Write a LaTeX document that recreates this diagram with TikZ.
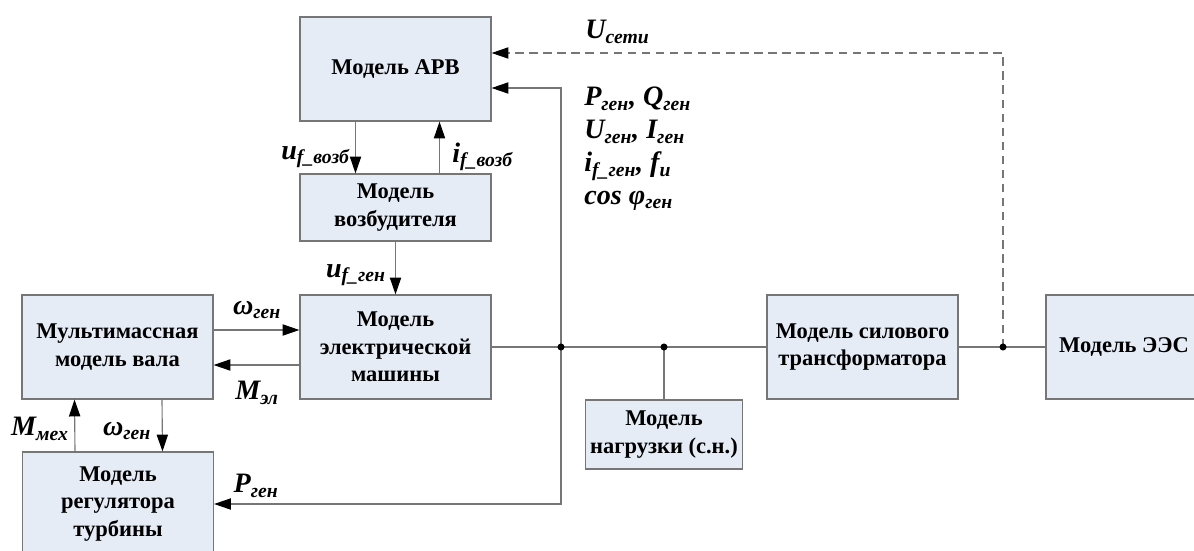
\documentclass[tikz,border=0pt]{standalone}
\usepackage{fontspec}
\setmainfont{Liberation Serif}
\usepackage{tikz}
\usetikzlibrary{positioning, calc, arrows.meta}
\definecolor{boxblue}{RGB}{230,236,246}
\definecolor{linegray}{RGB}{118,118,118}
\newcommand{\subsig}[2]{#1\textsubscript{#2}}

\begin{document}
\begin{tikzpicture}
    [
      x=0.025cm, y=-0.025cm,
      Block/.style={rectangle, draw=linegray, fill=boxblue, line width=0.8pt, minimum width=4.775cm, minimum height=2.6cm, align=center, font=\fontsize{16}{19.5}\selectfont\bfseries},
      Small/.style={Block, minimum height=1.675cm},
      Sig/.style={font=\fontsize{20}{23.4}\selectfont\bfseries\itshape, inner sep=0pt},
      Line/.style={draw=linegray, line width=0.8pt},
      Arr/.style={Line, -{Triangle[length=12pt, width=8pt, color=black]}},
    ]
    \useasboundingbox (0,0) rectangle (1194,551);

    % Nodes
    \node[Block] (arv) at (395.5, 69) {Модель АРВ};
    \node[Small] (exc) at (395.5, 207.5) {Модель\\возбудителя};
    \node[Block] (mach) at (395.5, 347) {Модель\\электрической\\машины};
    \node[Block] (shaft) at (117.5, 347) {Мультимассная\\модель вала};
    \node[Block] (turb) at (118, 504) {Модель\\регулятора\\турбины};
    \node[Block, minimum width=3.85cm, minimum height=1.725cm] (load) at (664, 434.5) {Модель\\нагрузки (с.н.)};
    \node[Block] (trans) at (862.5, 347) {Модель силового\\трансформатора};
    \node[Block, minimum width=3.9cm] (ees) at (1124, 347) {Модель ЭЭС};

    \coordinate (j1) at (561, 347);
    \coordinate (j2) at (664, 347);
    \coordinate (j3) at (1003, 347);

    % Lines
    \path[Line] (mach.east) -- (trans.west);
    \path[Line] (trans.east) -- (ees.west);
    \path[Line] (j2) -- (load.north);
    \path[Arr] (j1) |- ($(arv.east)+(0,19)$);
    \path[Arr] (j1) |- (turb.east);
    \path[Arr, dash pattern=on 6pt off 4pt] (j3) |- ($(arv.east)+(0,-16)$);

    \path[Arr] ($(arv.south)+(-40,0)$) -- ($(exc.north)+(-40,0)$);
    \path[Arr] ($(exc.north)+(44,0)$) -- ($(arv.south)+(44,0)$);
    \path[Arr] (exc) -- (mach);
    \path[Arr] ($(shaft.east)+(0,-17)$) -- ($(mach.west)+(0,-17)$);
    \path[Arr] ($(mach.west)+(0,18)$) -- ($(shaft.east)+(0,18)$);
    \path[Arr] ($(turb.north)+(-43,0)$) -- ($(shaft.south)+(-43,0)$);
    \path[Arr] ($(shaft.south)+(44.5,0)$) -- ($(turb.north)+(44.5,0)$);

    \foreach \j in {j1, j2, j3}
      \fill (\j) circle (2.5pt);

    % Labels
    \node[Sig, anchor=base west] (uset) at (585, 39) {\subsig{U}{сети}};
    \node[Sig, anchor=north west, align=left] (meas) at (584, 87)
      {\subsig{P}{ген}, \subsig{Q}{ген}\\ \subsig{U}{ген}, \subsig{I}{ген}\\ \subsig{i}{f\_ген}, \subsig{f}{и}\\ cos \subsig{φ}{ген}};
    \node[Sig, anchor=east] (ufv) at (350, 157) {\subsig{u}{f\_возб}};
    \node[Sig, anchor=west] (ifv) at (452, 157) {\subsig{i}{f\_возб}};
    \node[Sig, anchor=east] (ufg) at (386, 275) {\subsig{u}{f\_ген}};
    \node[Sig] (wg1) at (257, 310) {\subsig{ω}{ген}};
    \node[Sig] (mel) at (257, 393) {\subsig{M}{эл}};
    \node[Sig] (mmex) at (40, 429) {\subsig{M}{мех}};
    \node[Sig] (wg2) at (127, 431) {\subsig{ω}{ген}};
    \node[Sig] (pg) at (256, 486) {\subsig{P}{ген}};

  \end{tikzpicture}
\end{document}
